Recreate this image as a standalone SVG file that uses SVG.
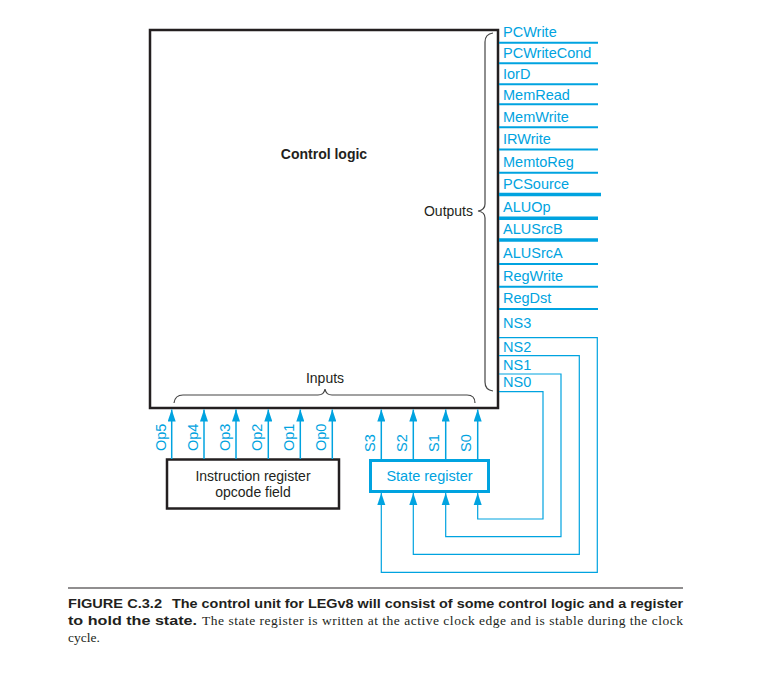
<svg xmlns="http://www.w3.org/2000/svg" width="760" height="674" viewBox="0 0 760 674">
<defs>
<style>
.blk{fill:none;stroke:#231f20;stroke-width:2.5}
.br{fill:none;stroke:#444;stroke-width:1.2}
.out{stroke:#00a3e0;stroke-width:2}
.thk{stroke:#00a3e0;stroke-width:3.5}
.ns{fill:none;stroke:#00a3e0;stroke-width:1.2}
.bt{font-family:"Liberation Sans",Arial,sans-serif;font-size:14.5px;fill:#00a3e0}
.kt{font-family:"Liberation Sans",Arial,sans-serif;font-size:14px;fill:#231f20}
.cb{font-family:"Liberation Sans",Arial,sans-serif;font-size:13px;font-weight:bold;fill:#231f20}
.cs{font-family:"Liberation Serif","Times New Roman",serif;font-size:13.5px;fill:#231f20}
</style>
<marker id="up" viewBox="0 0 8 12" refX="4" refY="0" markerWidth="8" markerHeight="12" markerUnits="userSpaceOnUse" orient="0">
<path d="M4,0 L8,12 L0,12 Z" fill="#00a3e0"/>
</marker>
</defs>
<rect width="760" height="674" fill="#fff"/>

<g id="control-logic">
<rect x="150" y="30" width="348" height="378" class="blk"/>
<text x="324" y="159" class="kt" font-weight="bold" text-anchor="middle">Control logic</text>
<path class="br" d="M493,33 Q485,34 485,42 L485,204 Q485,210 478,211 Q485,212 485,218 L485,382 Q485,390 493,391"/>
<text x="473" y="216" class="kt" text-anchor="end">Outputs</text>
<path class="br" d="M174,403 Q175,395 183,395 L318,395 Q324,395 325,389 Q326,395 332,395 L467,395 Q475,395 475,403"/>
<text x="325" y="383" class="kt" text-anchor="middle">Inputs</text>
</g>

<g id="outputs">
<line class="out" x1="499" y1="42.7" x2="598" y2="42.7"/>
<line class="out" x1="499" y1="63.3" x2="598" y2="63.3"/>
<line class="out" x1="499" y1="84.3" x2="598" y2="84.3"/>
<line class="out" x1="499" y1="104.3" x2="598" y2="104.3"/>
<line class="out" x1="499" y1="127.3" x2="598" y2="127.3"/>
<line class="out" x1="499" y1="149.5" x2="598" y2="149.5"/>
<line class="out" x1="499" y1="172.7" x2="598" y2="172.7"/>
<line class="thk" x1="499" y1="194.5" x2="601" y2="194.5"/>
<line class="thk" x1="499" y1="218.3" x2="598" y2="218.3"/>
<line class="thk" x1="499" y1="240" x2="598" y2="240"/>
<line class="out" x1="499" y1="264" x2="598" y2="264"/>
<line class="out" x1="499" y1="286.7" x2="598" y2="286.7"/>
<line class="out" x1="499" y1="309" x2="598" y2="309"/>
<text class="bt" x="503" y="37">PCWrite</text>
<text class="bt" x="503" y="58">PCWriteCond</text>
<text class="bt" x="503" y="79">IorD</text>
<text class="bt" x="503" y="99.5">MemRead</text>
<text class="bt" x="503" y="121.5">MemWrite</text>
<text class="bt" x="503" y="143.5">IRWrite</text>
<text class="bt" x="503" y="167">MemtoReg</text>
<text class="bt" x="503" y="188.5">PCSource</text>
<text class="bt" x="503" y="212">ALUOp</text>
<text class="bt" x="503" y="234">ALUSrcB</text>
<text class="bt" x="503" y="258">ALUSrcA</text>
<text class="bt" x="503" y="281">RegWrite</text>
<text class="bt" x="503" y="303">RegDst</text>
<text class="bt" x="503" y="328">NS3</text>
<text class="bt" x="503" y="351.5">NS2</text>
<text class="bt" x="503" y="369.5">NS1</text>
<text class="bt" x="503" y="387">NS0</text>
</g>

<g id="instruction-register">
<rect x="167" y="459.5" width="172" height="49" class="blk"/>
<text class="kt" x="253" y="481" text-anchor="middle">Instruction register</text>
<text class="kt" x="253" y="497" text-anchor="middle">opcode field</text>
</g>

<g id="state-register">
<rect x="370.5" y="460.5" width="118" height="31" fill="none" stroke="#00a3e0" stroke-width="3"/>
<text class="bt" x="429.5" y="481" text-anchor="middle">State register</text>
</g>

<g id="connectors">
<g marker-start="url(#up)" stroke="#00a3e0" stroke-width="1.5">
<line x1="171.7" y1="409.5" x2="171.7" y2="459"/>
<line x1="204" y1="409.5" x2="204" y2="459"/>
<line x1="236" y1="409.5" x2="236" y2="459"/>
<line x1="268.3" y1="409.5" x2="268.3" y2="459"/>
<line x1="300.3" y1="409.5" x2="300.3" y2="459"/>
<line x1="332.3" y1="409.5" x2="332.3" y2="459"/>
<line x1="381.3" y1="409.5" x2="381.3" y2="459"/>
<line x1="413.3" y1="409.5" x2="413.3" y2="459"/>
<line x1="445.7" y1="409.5" x2="445.7" y2="459"/>
<line x1="477.7" y1="409.5" x2="477.7" y2="459"/>
</g>
<g class="ns">
<path d="M499,337.7 H597.3 V572.3 H381.3 V493"/>
<path d="M499,355.7 H579.3 V554.3 H413.3 V493"/>
<path d="M499,374 H561 V536.7 H445.7 V493"/>
<path d="M499,391.7 H543 V519 H477.7 V493"/>
</g>
<g fill="#00a3e0">
<path d="M381.3,493 l4,12 h-8 z"/>
<path d="M413.3,493 l4,12 h-8 z"/>
<path d="M445.7,493 l4,12 h-8 z"/>
<path d="M477.7,493 l4,12 h-8 z"/>
</g>
<g class="bt">
<text transform="translate(165.5,451) rotate(-90)">Op5</text>
<text transform="translate(197.5,451) rotate(-90)">Op4</text>
<text transform="translate(229.5,451) rotate(-90)">Op3</text>
<text transform="translate(262,451) rotate(-90)">Op2</text>
<text transform="translate(294,451) rotate(-90)">Op1</text>
<text transform="translate(326,451) rotate(-90)">Op0</text>
<text transform="translate(375,452) rotate(-90)">S3</text>
<text transform="translate(407,452) rotate(-90)">S2</text>
<text transform="translate(439,452) rotate(-90)">S1</text>
<text transform="translate(471,452) rotate(-90)">S0</text>
</g>
</g>

<g id="caption">
<line x1="68" y1="588" x2="683" y2="588" stroke="#231f20" stroke-width="1.2"/>
<text class="cb" x="68" y="608" textLength="94" lengthAdjust="spacingAndGlyphs">FIGURE C.3.2</text>
<text class="cb" x="172" y="608" textLength="511" lengthAdjust="spacingAndGlyphs">The control unit for LEGv8 will consist of some control logic and a register</text>
<text class="cb" x="68" y="625" textLength="129" lengthAdjust="spacingAndGlyphs">to hold the state.</text>
<text class="cs" x="202" y="625" textLength="481" lengthAdjust="spacing">The state register is written at the active clock edge and is stable during the clock</text>
<text class="cs" x="68" y="642">cycle.</text>
</g>
</svg>
